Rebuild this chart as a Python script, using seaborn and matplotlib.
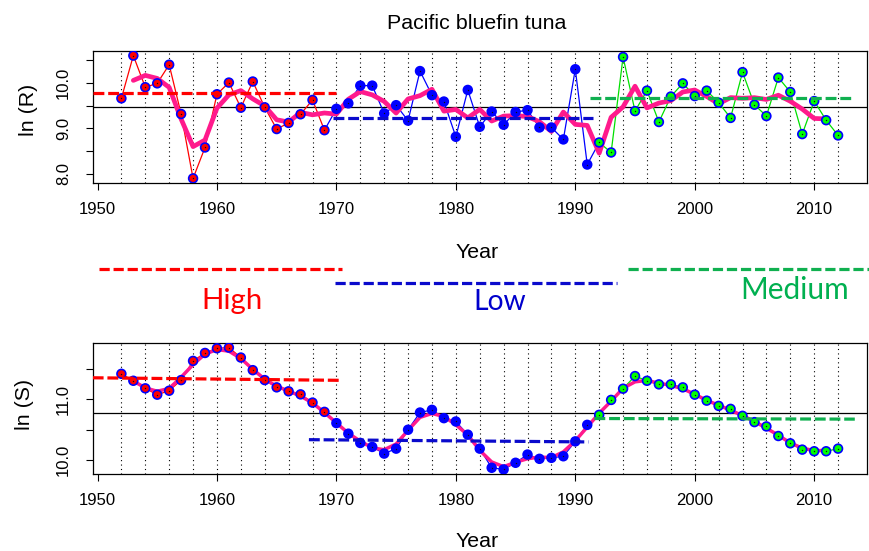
import numpy as np
import pandas as pd
import matplotlib
matplotlib.use("Agg")
import matplotlib.pyplot as plt
from matplotlib.lines import Line2D
import seaborn as sns

# ---- data -------------------------------------------------------------
years = list(range(1952, 2013))

ln_r = [9.66, 10.60, 9.905, 9.99, 10.40, 9.316, 7.90, 8.58, 9.75, 10.007,
        9.455, 10.03, 9.463, 8.985, 9.12, 9.31, 9.625, 8.96,
        9.43, 9.55, 9.94, 9.94, 9.33, 9.51, 9.17, 10.26, 9.73, 9.59,
        8.815, 9.845, 9.035, 9.37, 9.08, 9.36, 9.40, 9.02, 9.02, 8.757,
        10.30, 8.205,
        8.69, 8.47, 10.57, 9.38, 9.83, 9.14, 9.70, 9.99, 9.71, 9.83,
        9.565, 9.23, 10.236, 9.52, 9.27, 10.117, 9.80, 8.874, 9.60, 9.18,
        8.845]

ln_s = [11.417, 11.303, 11.179, 11.075, 11.14, 11.314, 11.629, 11.759,
        11.836, 11.847, 11.684, 11.477, 11.314, 11.195, 11.13, 11.08,
        10.945, 10.793,
        10.609, 10.435, 10.283, 10.218, 10.109, 10.19, 10.5, 10.782,
        10.826, 10.69, 10.635, 10.419, 10.19, 9.876, 9.849, 9.958, 10.093,
        10.023, 10.039, 10.065, 10.309, 10.58,
        10.744, 10.989, 11.173, 11.38, 11.303, 11.244, 11.244, 11.195,
        11.075, 10.977, 10.891, 10.842, 10.728, 10.625, 10.554, 10.397,
        10.277, 10.174, 10.147, 10.147, 10.19]

regime_names = ["High", "Low", "Medium"]
regime_first_year = [1952, 1970, 1992]
# year spans joined by the thin coloured line of each regime
regime_line_spans = [(1952, 1969), (1969, 1992), (1992, 2012)]

# regime levels (dashed segments): x ends and y ends
r_level_x = [[1949.6, 1970.0], [1969.7, 1991.5], [1991.2, 2013.2]]
r_level_y = [[9.786, 9.786], [9.234, 9.234], [9.662, 9.662]]
s_level_x = [[1949.6, 1970.4], [1967.7, 1991.1], [1991.6, 2013.4]]
s_level_y = [[11.352, 11.310], [10.337, 10.300], [10.684, 10.674]]

x_ticks = [1950, 1960, 1970, 1980, 1990, 2000, 2010]
r_ticks = [8.0, 8.5, 9.0, 9.5, 10.0, 10.5]
s_ticks = [10.0, 10.5, 11.0, 11.5]

# ---- styling ----------------------------------------------------------
fill_colors = {"High": "#FF0000", "Low": "#0000FF", "Medium": "#00FF00"}
line_colors = {"High": "#FF0000", "Low": "#0000FF", "Medium": "#00E000"}
level_colors = {"High": "#FF0000", "Low": "#0A0ACC", "Medium": "#10B050"}
label_colors = {"High": "#FF0000", "Low": "#0000CC", "Medium": "#00B050"}
edge_blue = "#0000FF"
smooth_color = "#FF1A8C"

sns.set_theme(style="white")
plt.rcParams["font.family"] = ["Liberation Sans", "DejaVu Sans"]

df = pd.DataFrame({"year": years, "lnR": ln_r, "lnS": ln_s})
df["regime"] = pd.cut(df["year"],
                      bins=regime_first_year + [10000],
                      right=False, labels=regime_names).astype(str)
df["lnR_smooth"] = df["lnR"].rolling(3, center=True).mean()
df["lnS_smooth"] = df["lnS"].rolling(3, center=True).mean()

W, H = 869, 551
fig = plt.figure(figsize=(W / 100, H / 100), dpi=100)
ax_r = fig.add_axes([0.1067, 0.6673, 0.8907, 0.2407])
ax_s = fig.add_axes([0.1067, 0.1392, 0.8907, 0.2388])


def draw_panel(ax, col, level_x, level_y, ticks, smooth_lw):
    vals = df[col].to_numpy()
    # dotted year guides every second year
    for yr in range(years[0], years[-1] + 1, 2):
        ax.axvline(yr, color="black", lw=0.8, ls=(0, (1, 3)), zorder=1)
    ax.axhline(vals.mean(), color="black", lw=0.9, zorder=1.5)

    # thin connecting lines per regime
    for name, (a, b) in zip(regime_names, regime_line_spans):
        sub = df[(df["year"] >= a) & (df["year"] <= b)]
        sns.lineplot(data=sub, x="year", y=col, ax=ax, color=line_colors[name],
                     lw=0.9, estimator=None, sort=True, zorder=2)

    # 3-year running mean
    sns.lineplot(data=df.dropna(subset=[col + "_smooth"]), x="year",
                 y=col + "_smooth", ax=ax, color=smooth_color,
                 lw=smooth_lw, estimator=None, zorder=3)

    # points
    sns.scatterplot(data=df, x="year", y=col, hue="regime", palette=fill_colors,
                    hue_order=regime_names, s=40, edgecolor=edge_blue,
                    linewidth=1.2, ax=ax, legend=False, zorder=4)
    ax.scatter(df["year"], df[col], s=1.0, color="#101010", zorder=5,
               linewidths=0)

    # regime levels
    for name, xs, ys in zip(regime_names, level_x, level_y):
        ax.plot(xs, ys, color=level_colors[name], lw=2.3,
                ls=(0, (3.4, 1.2)), zorder=6, dash_capstyle="butt")

    lo, hi = vals.min(), vals.max()
    pad = 0.04 * (hi - lo)
    ax.set_ylim(lo - pad, hi + pad)
    ax.set_xlim(1949.6, 2014.4)
    ax.set_xticks(x_ticks)
    ax.set_xticklabels([str(t) for t in x_ticks])
    ax.set_yticks(ticks)
    ax.set_yticklabels([f"{t:.1f}" if float(t).is_integer() else "" for t in ticks],
                       rotation=90, va="center")
    ax.tick_params(axis="both", direction="out", length=5, width=0.8,
                   color="black", labelsize=12, labelcolor="black",
                   bottom=True, left=True)
    ax.tick_params(axis="x", pad=8.5)
    ax.tick_params(axis="y", pad=10.5)
    ax.set_xlabel("")
    ax.set_ylabel("")
    for sp in ax.spines.values():
        sp.set_visible(True)
        sp.set_color("black")
        sp.set_linewidth(0.9)


draw_panel(ax_r, "lnR", r_level_x, r_level_y, r_ticks, 3.4)
draw_panel(ax_s, "lnS", s_level_x, s_level_y, s_ticks, 2.5)


def fx(px):
    return px / W


def fy(py):
    return 1 - py / H


# titles and axis labels
fig.text(fx(476.7), fy(29.3), "Pacific bluefin tuna", ha="center",
         va="baseline", fontsize=15.4, color="black")
fig.text(fx(476.7), fy(257.7), "Year", ha="center", va="baseline",
         fontsize=15.4, color="black")
fig.text(fx(476.7), fy(547.0), "Year", ha="center", va="baseline",
         fontsize=15.4, color="black")
fig.text(fx(28.5), fy(109.5), "ln (R)", rotation=90, ha="center",
         va="center", fontsize=15.4, color="black")
fig.text(fx(24.0), fy(404.0), "ln (S)", rotation=90, ha="center",
         va="center", fontsize=15.4, color="black")

# regime key between the panels
key_lines = {"High": ([99.3, 342.3], 269.0),
             "Low": ([335.0, 617.3], 283.3),
             "Medium": ([628.3, 869.0], 269.3)}
key_text = {"High": (232.0, 309.0, 21.2),
            "Low": (499.5, 310.3, 20.3),
            "Medium": (794.7, 299.3, 21.5)}
for name in regime_names:
    xs, y = key_lines[name]
    fig.add_artist(Line2D([fx(xs[0]), fx(xs[1])], [fy(y), fy(y)],
                          transform=fig.transFigure, color=level_colors[name],
                          lw=2.3, ls=(0, (3.2, 1.2)), dash_capstyle="butt"))
    tx, ty, fs = key_text[name]
    fig.text(fx(tx), fy(ty), name, ha="center", va="baseline", fontsize=fs,
             color=label_colors[name], family=["Lato", "DejaVu Sans"])

fig.savefig("out.png", dpi=100)
